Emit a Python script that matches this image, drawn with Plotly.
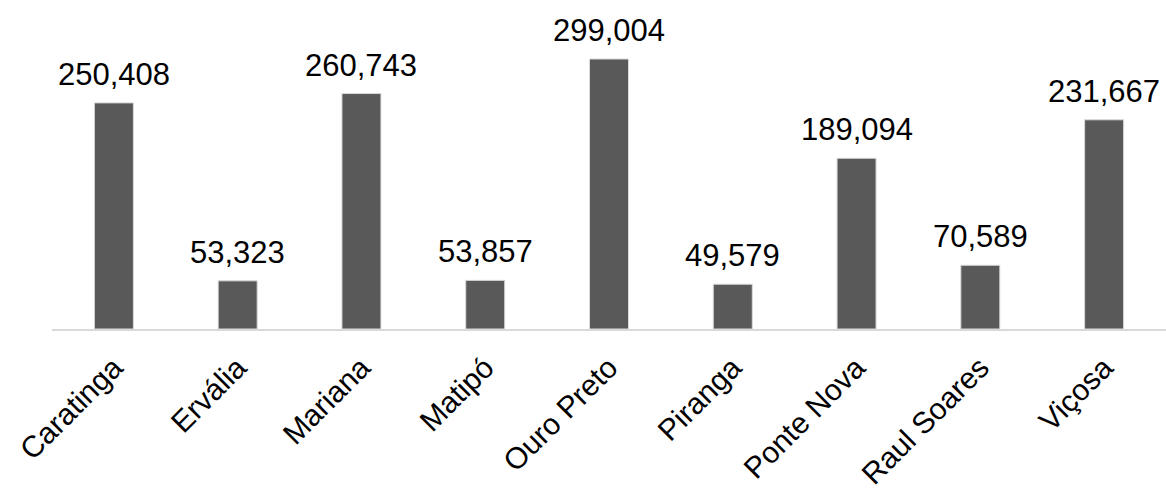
import plotly.graph_objects as go

categories = ["Caratinga", "Ervália", "Mariana", "Matipó", "Ouro Preto",
              "Piranga", "Ponte Nova", "Raul Soares", "Viçosa"]
values = [250408, 53323, 260743, 53857, 299004, 49579, 189094, 70589, 231667]
labels = [f"{v:,}" for v in values]

FONT = "Liberation Sans, Arial"

fig = go.Figure(go.Bar(
    x=categories, y=values,
    marker=dict(color="#595959", line=dict(color="#d9d9d9", width=1)),
    width=0.315,
))

for c, v, t in zip(categories, values, labels):
    fig.add_annotation(x=c, y=v, text=t, showarrow=False, yanchor="bottom",
                       yshift=9, font=dict(size=31, color="#000000", family=FONT))

top_px = 20
base_px = 329
ymax = 299004 * (base_px - top_px) / 270

fig.update_layout(
    width=1166, height=490,
    margin=dict(l=52, r=0, t=top_px, b=490 - base_px, autoexpand=False),
    plot_bgcolor="white", paper_bgcolor="white",
    showlegend=False,
    font=dict(family=FONT, color="#000000"),
)
fig.update_yaxes(range=[0, ymax], visible=False, showgrid=False, automargin=False)
fig.update_xaxes(
    showline=True, linecolor="#d9d9d9", linewidth=2, automargin=False,
    tickangle=-45, tickfont=dict(size=30, color="#000000", family=FONT),
    ticks="", showgrid=False, ticklabelstandoff=7,
)

fig.write_html("out.html")
